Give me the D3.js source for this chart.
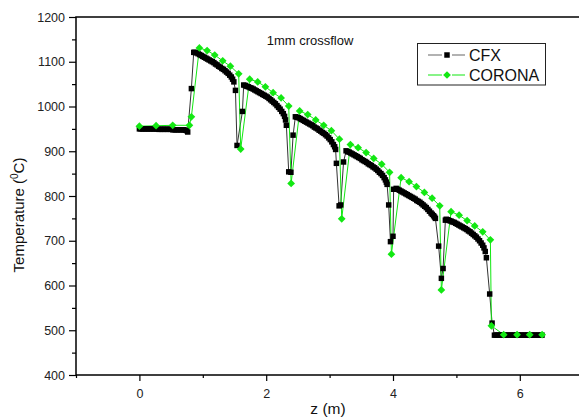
<!DOCTYPE html>
<html>
<head>
<meta charset="utf-8">
<script src="https://cdn.jsdelivr.net/npm/d3@7"></script>
<style>
  body { margin: 0; background: #fff; }
  svg { display: block; font-family: 'Liberation Sans', Arial, sans-serif; }
</style>
</head>
<body>
<svg width="579" height="419"></svg>
<script>
'use strict'

// CFX series (z in m, temperature in C)
const cfxZ = [
  0, 0.025, 0.05, 0.075, 0.1, 0.125, 0.15, 0.175, 0.2, 0.225, 0.25, 0.275,
  0.3, 0.325, 0.35, 0.375, 0.4, 0.425, 0.45, 0.475, 0.5,
  0.525, 0.55, 0.575, 0.6, 0.625, 0.65, 0.675, 0.7, 0.725, 0.745, 0.762,
  0.82, 0.857,
  0.875, 0.9, 0.925, 0.95, 0.975, 1.0, 1.025, 1.05, 1.075, 1.1, 1.125, 1.15, 1.175, 1.2, 1.225,
  1.25, 1.275, 1.3, 1.325, 1.35, 1.375, 1.4, 1.425, 1.45, 1.47, 1.49, 1.515, 1.54, 1.625, 1.645,
  1.67, 1.695, 1.72, 1.745, 1.77, 1.795, 1.82, 1.845, 1.87, 1.895, 1.92, 1.945, 1.97, 1.995, 2.02, 2.045,
  2.07, 2.095, 2.12, 2.145, 2.17, 2.195, 2.22, 2.245, 2.27, 2.29, 2.305, 2.318, 2.355, 2.39, 2.424, 2.46,
  2.485, 2.51, 2.535, 2.56, 2.585, 2.61, 2.635, 2.66, 2.685, 2.71, 2.735, 2.76, 2.785, 2.81, 2.835,
  2.86, 2.885, 2.91, 2.935, 2.96, 2.985, 3.01, 3.035, 3.06, 3.08, 3.095, 3.107, 3.15, 3.175, 3.22, 3.26,
  3.285, 3.31, 3.335, 3.36, 3.385, 3.41, 3.435, 3.46, 3.485, 3.51, 3.535, 3.56, 3.585, 3.61, 3.635, 3.66,
  3.685, 3.71, 3.735, 3.76, 3.785, 3.81, 3.835, 3.86, 3.88, 3.895, 3.907, 3.932, 3.96, 4.0, 4.01, 4.05,
  4.075, 4.1, 4.125, 4.15, 4.175, 4.2, 4.225, 4.25, 4.275, 4.3, 4.325, 4.35, 4.375, 4.4, 4.425,
  4.45, 4.475, 4.5, 4.525, 4.55, 4.575, 4.6, 4.62, 4.64, 4.655, 4.669, 4.72, 4.763, 4.79, 4.826, 4.84,
  4.865, 4.89, 4.915, 4.94, 4.965, 4.99, 5.015, 5.04, 5.065, 5.09, 5.115, 5.14, 5.165, 5.19,
  5.215, 5.24, 5.265, 5.29, 5.315, 5.34, 5.365, 5.39, 5.415, 5.435, 5.455, 5.473, 5.525, 5.563,
  5.6, 5.625, 5.65, 5.675, 5.7, 5.725, 5.75, 5.775, 5.8, 5.825, 5.85, 5.875, 5.9, 5.925, 5.95, 5.975,
  6.0, 6.025, 6.05, 6.075, 6.1, 6.125, 6.15, 6.175, 6.2, 6.225, 6.25, 6.275, 6.3, 6.325, 6.35
]
const cfxT = [
  950, 950, 950, 950, 950, 950, 950, 950, 950, 950, 950, 950,
  949, 949, 949, 949, 949, 949, 949, 949, 949,
  948, 948, 948, 948, 948, 948, 948, 948, 947, 946, 943,
  1040, 1121,
  1121, 1120, 1118, 1116, 1114, 1112, 1110, 1108, 1106, 1104, 1102, 1100, 1098, 1095, 1093,
  1090, 1088, 1085, 1083, 1080, 1077, 1074, 1070, 1066, 1061, 1055, 1036, 913, 989, 1048,
  1047, 1045, 1044, 1042, 1041, 1039, 1037, 1035, 1033, 1031, 1029, 1027, 1025, 1023, 1021, 1018,
  1015, 1012, 1009, 1006, 1002, 998, 994, 989, 984, 978, 970, 958, 854, 853, 936, 977,
  976, 975, 973, 971, 969, 967, 965, 963, 961, 959, 957, 954, 952, 950, 947,
  945, 942, 940, 937, 934, 930, 926, 921, 915, 910, 904, 873, 778, 780, 876, 901,
  899, 898, 896, 894, 892, 890, 888, 886, 884, 881, 879, 877, 875, 872, 870, 868,
  865, 863, 860, 857, 853, 850, 846, 841, 836, 831, 826, 780, 698, 710, 815, 817,
  815, 813, 811, 809, 807, 805, 803, 801, 799, 797, 795, 793, 790, 788, 786,
  783, 780, 777, 774, 770, 766, 762, 759, 756, 753, 750, 688, 616, 638, 746, 748,
  747, 745, 744, 742, 741, 739, 737, 735, 733, 731, 729, 727, 725, 722,
  720, 717, 714, 711, 708, 704, 700, 695, 690, 684, 676, 662, 581, 516,
  489, 489, 489, 489, 489, 489, 489, 489, 489, 489, 489, 489, 489, 489, 489, 489,
  489, 489, 489, 489, 489, 489, 489, 489, 489, 489, 489, 489, 489, 489, 489
]

// CORONA series
const coronaZ = [
  0, 0.263, 0.525, 0.789, 0.82, 0.946, 1.068, 1.188, 1.314, 1.435, 1.566, 1.598,
  1.74, 1.866, 1.987, 2.109, 2.235, 2.355, 2.393,
  2.528, 2.655, 2.781, 2.907, 3.028, 3.155, 3.191,
  3.328, 3.45, 3.576, 3.696, 3.822, 3.946, 3.975,
  4.128, 4.254, 4.369, 4.495, 4.617, 4.737, 4.763,
  4.916, 5.043, 5.169, 5.289, 5.415, 5.536, 5.552,
  5.746, 5.957, 6.156, 6.352
]
const coronaT = [
  956, 957, 958, 958, 977, 1131, 1125, 1115, 1102, 1090, 1073, 905,
  1061, 1055, 1044, 1031, 1019, 1001, 828,
  990, 982, 970, 958, 946, 927, 749,
  915, 908, 897, 884, 871, 853, 670,
  841, 832, 821, 808, 795, 778, 590,
  765, 757, 745, 733, 720, 702, 510,
  490, 490, 490, 490
]

const xMajor = [0, 2, 4, 6]
const xMinor = [-1, 1, 3, 5]
const yMajor = [400, 500, 600, 700, 800, 900, 1000, 1100, 1200]
const yMinor = [450, 550, 650, 750, 850, 950, 1050, 1150]
const seriesNames = ['CFX', 'CORONA']

const plotLeft = 76
const plotTop = 17
const plotBottom = 375
const green = '#12e812'

const svg = d3.select('svg')
const x = d3.scaleLinear().domain([-1, 7]).range([plotLeft, plotLeft + 8 * 63.4])
const y = d3.scaleLinear().domain([400, 1200]).range([plotBottom, plotTop])

const cfx = cfxZ.map((z, i) => ({ z, t: cfxT[i] }))
const corona = coronaZ.map((z, i) => ({ z, t: coronaT[i] }))

// axes
const xAxis = svg.append('g').attr('transform', `translate(0,${plotBottom})`)
  .call(d3.axisBottom(x).tickValues(xMajor).tickSize(6).tickPadding(8).tickFormat(d3.format('d')))
xAxis.select('.domain').remove()
svg.append('g').attr('transform', `translate(0,${plotBottom})`)
  .call(d3.axisBottom(x).tickValues(xMinor).tickSize(3).tickFormat(''))
  .select('.domain').remove()

const yAxis = svg.append('g').attr('transform', `translate(${plotLeft},0)`)
  .call(d3.axisLeft(y).tickValues(yMajor).tickSize(7).tickPadding(4).tickFormat(d3.format('d')))
yAxis.select('.domain').remove()
svg.append('g').attr('transform', `translate(${plotLeft},0)`)
  .call(d3.axisLeft(y).tickValues(yMinor).tickSize(4).tickFormat(''))
  .select('.domain').remove()

svg.selectAll('.tick line').attr('stroke', '#000').attr('stroke-width', 1.2)
svg.selectAll('.tick text').attr('font-size', 12.5).attr('fill', '#222')
  .attr('font-family', "'Liberation Sans', Arial, sans-serif")

// frame: left, bottom, top
svg.append('path')
  .attr('d', `M${x(7) + 5},${plotTop}H${plotLeft}V${plotBottom}H${x(7) + 5}`)
  .attr('fill', 'none').attr('stroke', '#000').attr('stroke-width', 1.5)

// lines
const line = d3.line().x(d => x(d.z)).y(d => y(d.t))
svg.append('path').datum(cfx).attr('d', line)
  .attr('fill', 'none').attr('stroke', '#333').attr('stroke-width', 1)
svg.append('path').datum(corona).attr('d', line)
  .attr('fill', 'none').attr('stroke', green).attr('stroke-width', 1)

// markers
const square = d3.symbol(d3.symbolSquare, 30)
const diamond = d3.symbol(d3.symbolSquare, 30)
svg.append('g').selectAll('path').data(cfx).join('path')
  .attr('d', square).attr('fill', '#000')
  .attr('transform', d => `translate(${x(d.z)},${y(d.t)})`)
svg.append('g').selectAll('path').data(corona).join('path')
  .attr('d', diamond).attr('fill', green)
  .attr('transform', d => `translate(${x(d.z)},${y(d.t)}) rotate(45)`)

// titles
svg.append('text').attr('x', 310).attr('y', 45).attr('text-anchor', 'middle')
  .attr('font-size', 13).attr('fill', '#111').text('1mm crossflow')
svg.append('text').attr('x', 328).attr('y', 414).attr('text-anchor', 'middle')
  .attr('font-size', 15.5).attr('fill', '#111').text('z (m)')

const yt = svg.append('text').attr('transform', 'translate(23.5,215) rotate(-90)')
  .attr('text-anchor', 'middle').attr('font-size', 15).attr('fill', '#111')
yt.append('tspan').text('Temperature (')
yt.append('tspan').attr('font-size', 10).attr('dy', -6).text('0')
yt.append('tspan').attr('dy', 6).text('C)')

// legend
const lg = svg.append('g')
lg.append('rect').attr('x', 417.5).attr('y', 43.5).attr('width', 128).attr('height', 41.5)
  .attr('fill', '#fff').attr('stroke', '#222').attr('stroke-width', 1)
seriesNames.forEach((name, i) => {
  const ly = 55 + i * 20
  const col = i === 0 ? '#666' : green
  lg.append('path').attr('d', `M428,${ly}H442M452,${ly}H465`)
    .attr('stroke', col).attr('stroke-width', 1.2)
  lg.append('path').attr('d', i === 0 ? square : diamond).attr('fill', i === 0 ? '#000' : green)
    .attr('transform', `translate(447,${ly})` + (i === 0 ? '' : ' rotate(45)'))
  lg.append('text').attr('x', 469).attr('y', ly + 6).attr('font-size', 16)
    .attr('fill', '#111').text(name)
})
</script>
</body>
</html>
